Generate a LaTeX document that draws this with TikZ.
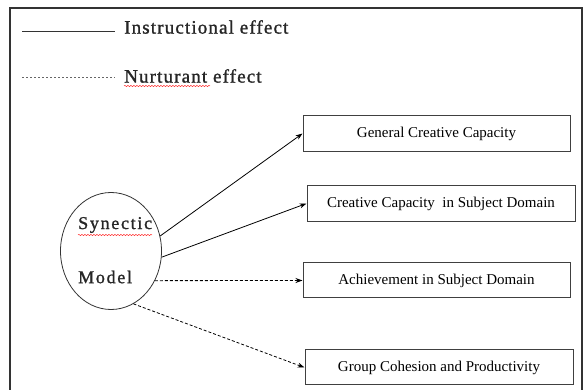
\documentclass[tikz,border=0pt]{standalone}
\usepackage{fontspec}
\setmainfont{Liberation Serif}
\newfontfamily\legfont[LetterSpace=6,FakeBold=1.3]{Liberation Serif}
\newfontfamily\synfont[LetterSpace=9.5,FakeBold=1.3]{Liberation Serif}
\usetikzlibrary{shapes.geometric,arrows.meta,decorations.pathmorphing}
\begin{document}
\begin{tikzpicture}[x=1pt,y=-1pt,
  boxnode/.style={draw=black!75,line width=1pt,minimum height=36pt,inner sep=0pt,font=\fontsize{15}{17}\selectfont},
  legtext/.style={anchor=west,inner sep=0pt,text=black!85,font=\legfont\fontsize{19}{21}\selectfont},
  syntext/.style={anchor=west,inner sep=0pt,text=black!85,font=\synfont\fontsize{18}{20}\selectfont},
  instr/.style={line width=0.8pt,-{Stealth[length=7pt,width=5pt]}},
  nurt/.style={line width=0.8pt,dash pattern=on 3pt off 2pt,-{Stealth[length=7pt,width=5pt]}},
  spell/.style={draw=red!85,line width=0.5pt,decorate,decoration={snake,amplitude=0.6pt,segment length=3pt}}]
\useasboundingbox (0,0) rectangle (587,390);
% frame
\draw[black!80,line width=1.5pt] (10,395) -- (10,8) -- (582,8) -- (582,395);
% legend
\coordinate (la) at (22,32);
\coordinate (lb) at (115,32);
\draw[black!80,line width=1pt] (la) -- (lb);
\node[legtext] (li) at (124,27) {Instructional effect};
\coordinate (lc) at (22,78);
\coordinate (ld) at (115,78);
\draw[black!60,line width=1pt,dash pattern=on 2pt off 2pt] (lc) -- (ld);
\node[legtext] (ln) at (124,76) {Nurturant effect};
\coordinate (wa) at (124,86);
\coordinate (wb) at (210,86);
\draw[spell] (wa) -- (wb);
% model
\node[ellipse,draw=black!80,line width=0.8pt,minimum width=101pt,minimum height=117pt,inner sep=0pt] (syn) at (111,251) {};
\node[syntext] (s1) at (78,225) {Synectic};
\node[syntext] (s2) at (78,277) {Model};
\coordinate (wc) at (78,235);
\coordinate (wd) at (152,235);
\draw[spell] (wc) -- (wd);
% boxes
\node[boxnode,minimum width=267pt] (b1) at (436.5,133.5) {General Creative Capacity};
\node[boxnode,minimum width=268pt] (b2) at (441,203.5) {Creative Capacity\ \ in Subject Domain};
\node[boxnode,minimum width=267pt,minimum height=35pt] (b3) at (436.5,280.5) {Achievement in Subject Domain};
\node[boxnode,minimum width=268pt,minimum height=35pt] (b4) at (439,367.5) {Group Cohesion and Productivity};
% connectors
\draw[instr] (syn.17) -- (b1.west);
\draw[instr] (syn.-7) -- (b2.west);
\draw[nurt] (syn.-34) -- (b3.west);
\draw[nurt] (syn.-67) -- (b4.west);
\end{tikzpicture}
\end{document}
